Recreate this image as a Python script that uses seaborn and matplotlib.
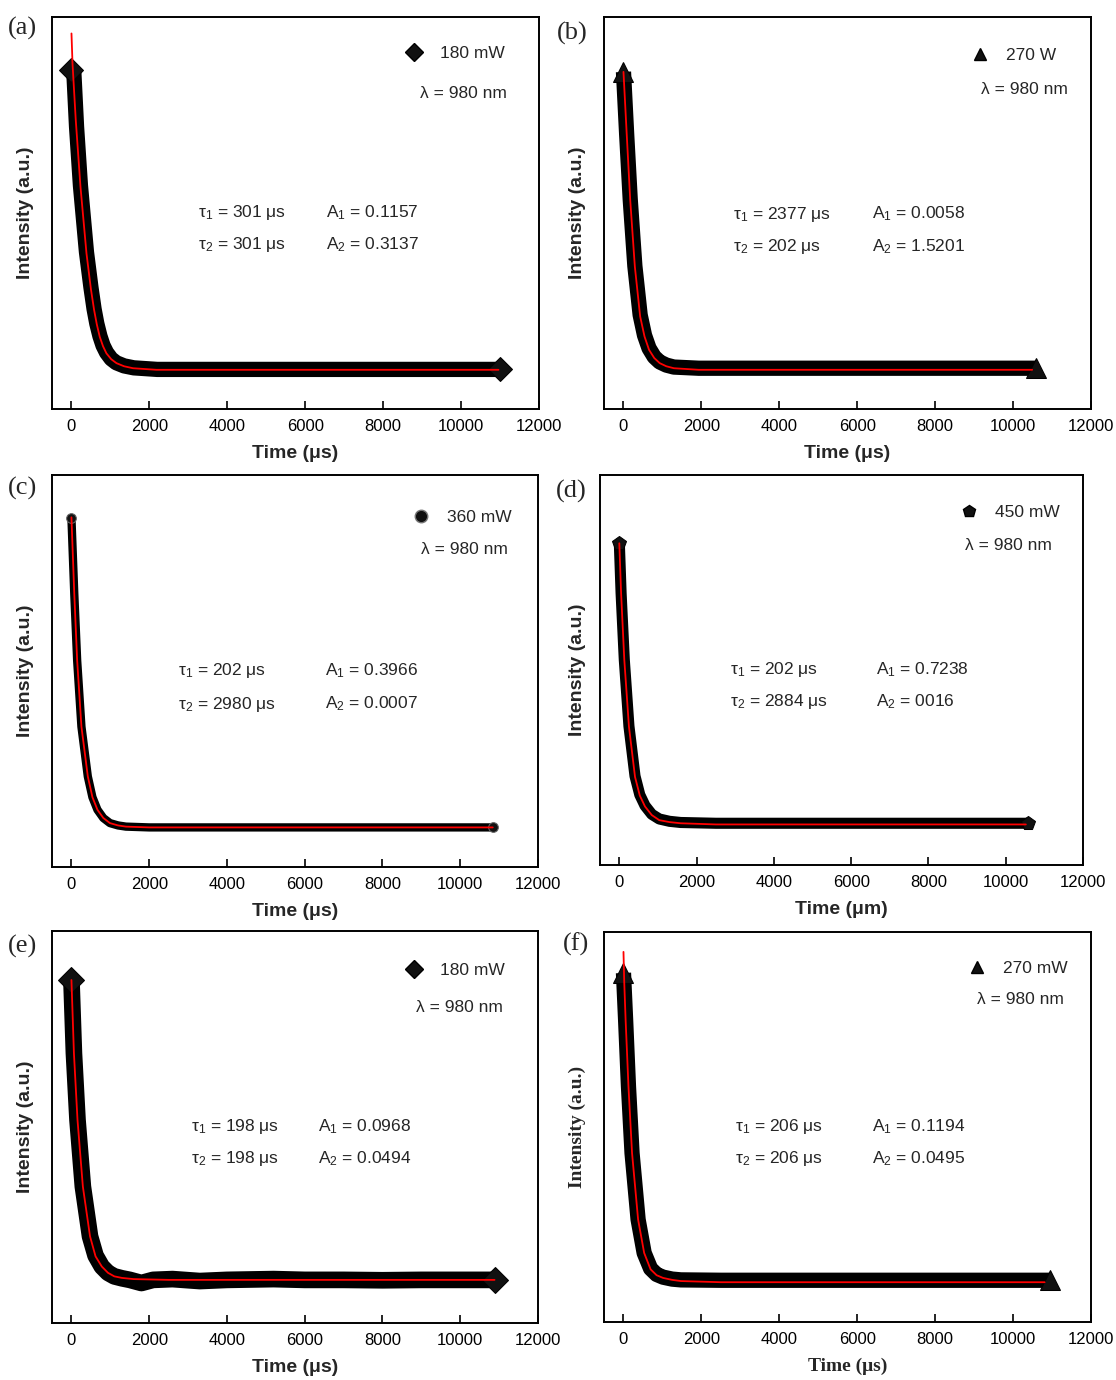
import numpy as np
import pandas as pd
import seaborn as sns
import matplotlib.pyplot as plt
from matplotlib.lines import Line2D

sns.set_theme(style="white")
plt.rcParams['font.family'] = ['Liberation Sans', 'DejaVu Sans']
plt.rcParams['mathtext.default'] = 'regular'

W, H = 1116, 1380

# ---- data (time in us, intensity normalised to the axes height) ----
# (a) 180 mW
t_data_a = [0, 60, 130, 230, 385, 500, 580, 650, 730, 810, 900, 1020, 1150, 1350, 1600, 2200, 3000, 4000, 5000, 6000, 7000, 8000, 9000, 10000, 11000]
i_data_a = [0.865, 0.86, 0.72, 0.57, 0.40, 0.31, 0.255, 0.218, 0.186, 0.162, 0.144, 0.128, 0.118, 0.110, 0.105, 0.101, 0.101, 0.101, 0.101, 0.101, 0.101, 0.101, 0.101, 0.101, 0.101]
t_fit_a = [0, 26, 110, 231, 385, 500, 580, 650, 726, 810, 897, 1020, 1154, 1350, 1580, 2180, 4000, 6000, 8000, 10000, 10960]
i_fit_a = [0.958, 0.882, 0.737, 0.567, 0.397, 0.305, 0.253, 0.216, 0.184, 0.160, 0.142, 0.127, 0.117, 0.109, 0.104, 0.100, 0.100, 0.100, 0.100, 0.100, 0.100]

# (b) 270 W
t_data_b = [0, 82, 173, 292, 428, 540, 656, 790, 930, 1100, 1294, 1932, 3000, 4000, 5000, 6000, 7000, 8000, 9000, 10000, 10590]
i_data_b = [0.86, 0.70, 0.535, 0.365, 0.24, 0.188, 0.155, 0.133, 0.12, 0.112, 0.107, 0.104, 0.104, 0.104, 0.104, 0.104, 0.104, 0.104, 0.104, 0.104, 0.104]
t_fit_b = [0, 82, 173, 292, 428, 540, 656, 790, 930, 1100, 1294, 1932, 4000, 6000, 8000, 10490]
i_fit_b = [0.86, 0.703, 0.533, 0.363, 0.236, 0.185, 0.151, 0.130, 0.117, 0.109, 0.104, 0.100, 0.100, 0.100, 0.100, 0.100]

# (c) 360 mW
t_data_c = [0, 73, 147, 257, 421, 540, 669, 820, 990, 1200, 1402, 2000, 3000, 4000, 5000, 6000, 7000, 8000, 9000, 10000, 10850]
i_data_c = [0.89, 0.697, 0.527, 0.358, 0.231, 0.178, 0.146, 0.125, 0.112, 0.106, 0.103, 0.101, 0.101, 0.101, 0.101, 0.101, 0.101, 0.101, 0.101, 0.101, 0.101]
t_fit_c = [0, 73, 147, 257, 421, 540, 669, 820, 990, 1200, 1402, 2000, 4000, 6000, 8000, 10000, 10837]
i_fit_c = [0.892, 0.697, 0.527, 0.358, 0.231, 0.178, 0.146, 0.125, 0.112, 0.106, 0.103, 0.101, 0.101, 0.101, 0.101, 0.101, 0.101]

# (d) 450 mW
t_data_d = [0, 46, 129, 249, 406, 530, 665, 840, 1034, 1300, 1588, 2500, 3500, 4500, 5500, 6500, 7500, 8500, 9500, 10586]
i_data_d = [0.826, 0.697, 0.526, 0.356, 0.228, 0.180, 0.152, 0.130, 0.118, 0.112, 0.109, 0.107, 0.107, 0.107, 0.107, 0.107, 0.107, 0.107, 0.107, 0.107]
t_fit_d = [0, 46, 129, 249, 406, 530, 665, 840, 1034, 1300, 1588, 2500, 4000, 6000, 8000, 10521]
i_fit_d = [0.825, 0.697, 0.526, 0.355, 0.226, 0.178, 0.150, 0.128, 0.115, 0.110, 0.107, 0.104, 0.104, 0.104, 0.104, 0.104]

# (e) 180 mW
t_data_e = [0, 64, 156, 294, 478, 620, 781, 940, 1102, 1300, 1500, 1800, 2100, 2600, 3300, 4000, 5200, 6000, 7000, 8000, 9000, 10000, 10900]
i_data_e = [0.875, 0.688, 0.518, 0.348, 0.221, 0.172, 0.144, 0.128, 0.119, 0.114, 0.110, 0.102, 0.110, 0.112, 0.107, 0.110, 0.112, 0.110, 0.110, 0.109, 0.110, 0.110, 0.110]
t_fit_e = [0, 64, 156, 294, 478, 620, 781, 940, 1102, 1300, 1600, 2500, 4000, 6000, 8000, 10000, 10882]
i_fit_e = [0.875, 0.688, 0.518, 0.348, 0.221, 0.170, 0.144, 0.128, 0.119, 0.115, 0.112, 0.110, 0.110, 0.110, 0.110, 0.110, 0.110]

# (f) 270 mW
t_data_f = [0, 55, 128, 220, 375, 531, 696, 850, 1016, 1250, 1474, 2500, 3500, 4500, 5500, 6500, 7500, 8500, 9500, 10500, 10947]
i_data_f = [0.895, 0.774, 0.604, 0.433, 0.263, 0.177, 0.137, 0.122, 0.115, 0.110, 0.108, 0.107, 0.107, 0.107, 0.107, 0.107, 0.107, 0.107, 0.107, 0.107, 0.107]
t_fit_f = [0, 20, 55, 128, 220, 375, 531, 696, 850, 1016, 1250, 1474, 2500, 4000, 6000, 8000, 10810]
i_fit_f = [0.949, 0.87, 0.774, 0.604, 0.433, 0.263, 0.177, 0.135, 0.120, 0.113, 0.108, 0.105, 0.102, 0.102, 0.102, 0.102, 0.102]

powers = ['180 mW', '270 W', '360 mW', '450 mW', '180 mW', '270 mW']
tau1 = ['301', '2377', '202', '202', '198', '206']
tau2 = ['301', '202', '2980', '2884', '198', '206']
amp1 = ['0.1157', '0.0058', '0.3966', '0.7238', '0.0968', '0.1194']
amp2 = ['0.3137', '1.5201', '0.0007', '0016', '0.0494', '0.0495']
xlabels = ['Time (μs)', 'Time (μs)', 'Time (μs)', 'Time (μm)', 'Time (μs)', 'Time (μs)']
letters = ['(a)', '(b)', '(c)', '(d)', '(e)', '(f)']
xticks = [0, 2000, 4000, 6000, 8000, 10000, 12000]

data = [(t_data_a, i_data_a), (t_data_b, i_data_b), (t_data_c, i_data_c),
        (t_data_d, i_data_d), (t_data_e, i_data_e), (t_data_f, i_data_f)]
fits = [(t_fit_a, i_fit_a), (t_fit_b, i_fit_b), (t_fit_c, i_fit_c),
        (t_fit_d, i_fit_d), (t_fit_e, i_fit_e), (t_fit_f, i_fit_f)]

# ---- layout (pixels) ----
boxes = [(52, 539, 17, 409), (604, 1091, 17, 409),
         (52, 538, 475, 867), (600, 1083, 475, 865),
         (52, 538, 931, 1323), (604, 1091, 932, 1322)]
markers = ['D', '^', 'o', 'p', 'D', '^']
lws = [11, 11, 6, 8, 12, 11]
msize = [12, 15, 7, 10, 13, 15]
leg_xy = [(414, 53), (980, 55), (421, 517), (969, 512), (414, 970), (977, 968)]
lam_xy = [(507, 93), (1068, 90), (508, 550), (1052, 546), (503, 1008), (1064, 999)]
par_xy = [(198, 326, 213, 245), (733, 872, 214, 247), (178, 325, 671, 704),
          (730, 876, 670, 702), (191, 318, 1127, 1159), (735, 872, 1127, 1159)]
letter_xy = [(8, 28), (557, 33), (8, 488), (556, 491), (8, 946), (563, 944)]
ylab_pad = [13, 13, 13, 10, 13, 13]

fig = plt.figure(figsize=(W / 100, H / 100), dpi=100)
fig.patch.set_facecolor('white')

for k in range(6):
    L, R, T, B = boxes[k]
    ax = fig.add_axes([L / W, 1 - B / H, (R - L) / W, (B - T) / H])
    td, idd = data[k]
    tf, iff = fits[k]
    df_d = pd.DataFrame({'t': td, 'I': idd})
    df_f = pd.DataFrame({'t': tf, 'I': iff})
    # measured points: thick black band, marker shape shown at the two ends
    sns.lineplot(data=df_d, x='t', y='I', ax=ax, color='black', lw=lws[k],
                 marker=markers[k], markersize=msize[k], mfc='#111111',
                 mec='#666666' if k == 2 else 'black',
                 markevery=[0, len(td) - 1], sort=False, estimator=None,
                 legend=False, solid_joinstyle='round', solid_capstyle='butt')
    # fit
    sns.lineplot(data=df_f, x='t', y='I', ax=ax, color='#ff0000', lw=1.3,
                 sort=False, estimator=None, legend=False)
    ax.set_xlim(-500, 12000)
    ax.set_ylim(0, 1)
    ax.set_xticks(xticks)
    ax.set_yticks([])
    ax.tick_params(axis='x', direction='in', length=6, width=1.2, pad=7,
                   labelsize=12, colors='black', bottom=True, top=False)
    for s in ax.spines.values():
        s.set_color('black')
        s.set_linewidth(1.4)
    fam = ['Liberation Serif', 'DejaVu Serif'] if k == 5 else ['Liberation Sans', 'DejaVu Sans']
    ax.set_xlabel(xlabels[k], fontsize=14, fontweight='bold', family=fam, labelpad=8)
    ax.set_ylabel('Intensity (a.u.)', fontsize=14, fontweight='bold', family=fam, labelpad=ylab_pad[k])

    # legend with marker + power
    mx, my = leg_xy[k]
    h = Line2D([], [], ls='none', marker=markers[k], color='black', markersize=9,
               mfc='#111111', mec='#777777' if k == 2 else 'black')
    ax.legend([h], [powers[k]], loc='center left', frameon=False,
              bbox_to_anchor=((mx - 9) / W, 1 - my / H), bbox_transform=fig.transFigure,
              borderpad=0, borderaxespad=0, handlelength=1.0, handletextpad=1.0,
              prop={'size': 12.5})
    lx, ly = lam_xy[k]
    fig.text(lx / W, 1 - ly / H, 'λ = 980 nm', ha='right', va='center', fontsize=12.5)

    x1, x2, y1, y2 = par_xy[k]
    fig.text(x1 / W, 1 - y1 / H, 'τ$_1$ = ' + tau1[k] + ' μs', ha='left', va='center', fontsize=12.5)
    fig.text(x1 / W, 1 - y2 / H, 'τ$_2$ = ' + tau2[k] + ' μs', ha='left', va='center', fontsize=12.5)
    fig.text(x2 / W, 1 - y1 / H, 'A$_1$ = ' + amp1[k], ha='left', va='center', fontsize=12.5)
    fig.text(x2 / W, 1 - y2 / H, 'A$_2$ = ' + amp2[k], ha='left', va='center', fontsize=12.5)

    px, py = letter_xy[k]
    fig.text(px / W, 1 - py / H, letters[k], ha='left', va='center', fontsize=19,
             family=['Liberation Serif', 'DejaVu Serif'])

fig.savefig('out.png', dpi=100, facecolor='white')
